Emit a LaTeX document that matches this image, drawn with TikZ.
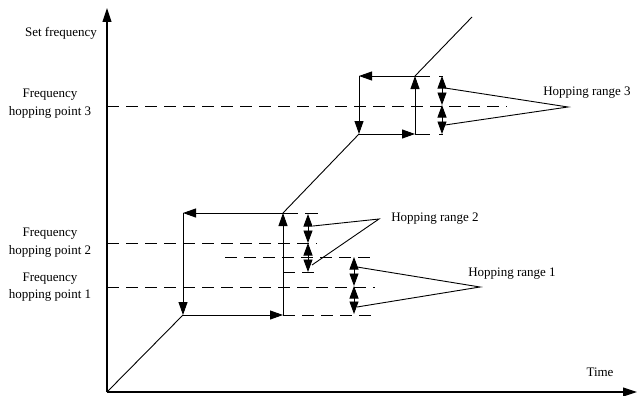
\documentclass[tikz,border=0pt]{standalone}
\usepackage{fontspec}
\setmainfont{Liberation Serif}
\usetikzlibrary{arrows.meta}
\begin{document}
\begin{tikzpicture}[x=1pt,y=-1pt,
  lbl/.style={font=\fontsize{13}{17.5}\selectfont, inner sep=0pt, align=center},
  ln/.style={line width=0.9pt},
  axis/.style={line width=1.1pt, -{Triangle[length=14pt,width=9pt]}},
  dsh/.style={line width=0.9pt, dash pattern=on 12pt off 7pt},
  arr/.style={ln, -{Triangle[length=13pt,width=9pt]}},
  dbl/.style={ln, {Triangle[length=12.5pt,width=9pt]}-{Triangle[length=12.5pt,width=9pt]}},
]
\useasboundingbox (0,0) rectangle (637,396);
% axes
\coordinate (O) at (107,392);
\coordinate (Ytop) at (107,8);
\coordinate (Xend) at (637,392);
\draw[axis] (O) -- (Ytop);
\draw[axis] (O) -- (Xend);
% main path points
\coordinate (A) at (183,315);
\coordinate (B) at (283,315);
\coordinate (C) at (283,213);
\coordinate (D) at (183,213);
\coordinate (E) at (359,134);
\coordinate (F) at (415,134);
\coordinate (G) at (415,76);
\coordinate (H) at (359,76);
\coordinate (I) at (472,17);
\draw[ln] (O) -- (A);
\draw[arr] (A) -- (B);
\draw[arr] (B) -- (C);
\draw[arr] (C) -- (D);
\draw[arr] (D) -- (A);
\draw[ln] (C) -- (E);
\draw[arr] (E) -- (F);
\draw[arr] (F) -- (G);
\draw[arr] (G) -- (H);
\draw[arr] (H) -- (E);
\draw[ln] (G) -- (I);
% dashed guide lines
\coordinate (p3a) at (107,106); \coordinate (p3b) at (507,106);
\coordinate (p2a) at (107,243); \coordinate (p2b) at (317,243);
\coordinate (p1a) at (107,287); \coordinate (p1b) at (375,287);
\coordinate (qa) at (225,257); \coordinate (qb) at (375,257);
\coordinate (ra) at (283,272); \coordinate (rb) at (320,272);
\coordinate (sb) at (375,315);
\coordinate (tb) at (318,213);
\coordinate (ub) at (443,76);
\coordinate (vb) at (443,134);
\draw[dsh] (p3a) -- (p3b);
\draw[dsh] (p2a) -- (p2b);
\draw[dsh] (p1a) -- (p1b);
\draw[dsh] (qa) -- (qb);
\draw[dsh] (ra) -- (rb);
\draw[dsh] (B) -- (sb);
\draw[ln, dash pattern=on 15pt off 7pt] (C) -- (tb);
\draw[ln, dash pattern=on 15pt off 9pt] (G) -- (ub);
\draw[ln, dash pattern=on 15pt off 9pt] (F) -- (vb);
% range arrows
\coordinate (r3t) at (442,76); \coordinate (r3m) at (442,105); \coordinate (r3b) at (442,134);
\coordinate (r2t) at (308,214); \coordinate (r2m) at (308,243); \coordinate (r2b) at (308,272);
\coordinate (r1t) at (354,257); \coordinate (r1m) at (354,286); \coordinate (r1b) at (354,314);
\draw[dbl] (r3t) -- (r3m);
\draw[dbl] (r3m) -- (r3b);
\draw[dbl] (r2t) -- (r2m);
\draw[dbl] (r2m) -- (r2b);
\draw[dbl] (r1t) -- (r1m);
\draw[dbl] (r1m) -- (r1b);
% leader lines
\coordinate (l3a) at (445,88); \coordinate (l3t) at (568,107); \coordinate (l3b) at (445,125);
\coordinate (l2a) at (313,226); \coordinate (l2t) at (379,219); \coordinate (l2b) at (312,265);
\coordinate (l1a) at (357,267); \coordinate (l1t) at (480,287); \coordinate (l1b) at (357,307);
\draw[ln] (l3a) -- (l3t) -- (l3b);
\draw[ln] (l2a) -- (l2t) -- (l2b);
\draw[ln] (l1a) -- (l1t) -- (l1b);
% labels
\node[lbl] (setf) at (61,33) {Set frequency};
\node[lbl] (fp3) at (50,103.5) {Frequency\\hopping point 3};
\node[lbl] (fp2) at (50,242.5) {Frequency\\hopping point 2};
\node[lbl] (fp1) at (50,287) {Frequency\\hopping point 1};
\node[lbl] (hr3) at (587,93) {Hopping range 3};
\node[lbl] (hr2) at (435,219) {Hopping range 2};
\node[lbl] (hr1) at (512,274) {Hopping range 1};
\node[lbl] (time) at (600,372) {Time};
\end{tikzpicture}
\end{document}
